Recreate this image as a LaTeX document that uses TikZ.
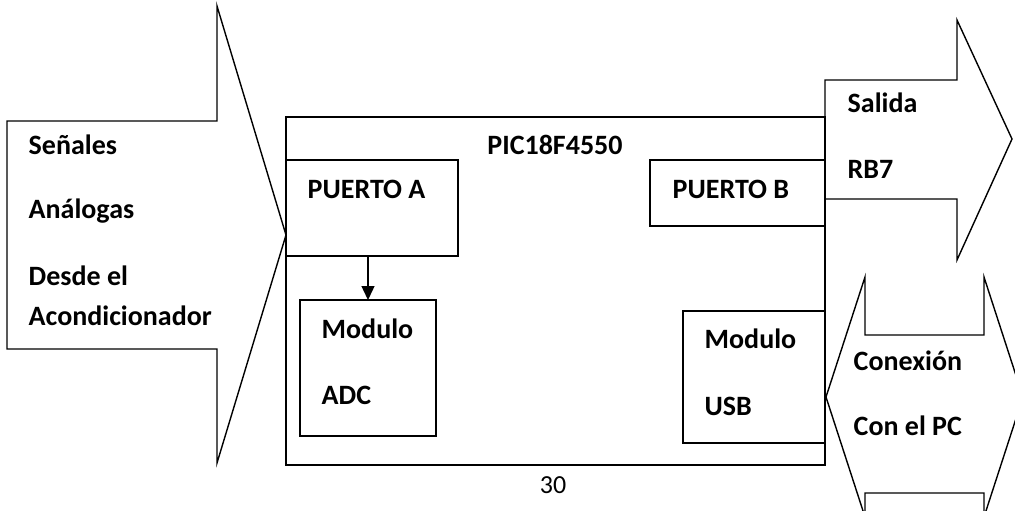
\documentclass[tikz,border=0pt]{standalone}
\usepackage{fontspec}
\setmainfont{Carlito}
\usepackage{tikz}
\usetikzlibrary{arrows.meta, positioning, calc}
\tikzset{>={Triangle[length=14pt, width=13pt]}}
\tikzset{
  blk/.style={draw, line width=1.4pt, inner sep=0pt, outer sep=0pt, anchor=north west},
  lbl/.style={anchor=base west, inner sep=0pt, font=\fontsize{28}{34}\selectfont\bfseries},
}

\begin{document}
\begin{tikzpicture}[x=1pt, y=-1pt, line width=1.4pt]
  \useasboundingbox (0,0) rectangle (1015,511);
  \clip (0,0) rectangle (1015,511);

  % input arrow
  \draw (7,121) to (217,121) to (217,6) to (286,235) to (217,463) to (217,349) to (7,349) -- cycle;
  \node[lbl] (senales) at (28,154) {Señales};
  \node[lbl] (analogas) at (28,218) {Análogas};
  \node[lbl] (desde) at (28,285) {Desde el};
  \node[lbl] (acond) at (28,325) {Acondicionador};

  % output arrow
  \draw (825,80) to (957,80) to (957,20) to (1012,139) to (957,260) to (957,199) to (825,199) -- cycle;
  \node[lbl] (salida) at (847,113) {Salida};
  \node[lbl] (rb) at (847,178) {RB7};

  % usb link
  \draw (826,397) to (865,277) to (865,335) to (984,335) to (984,277) to (1023,397)
        to (984,517) to (984,493) to (865,493) to (865,517) -- cycle;
  \node[lbl] (conexion) at (853,370) {Conexión};
  \node[lbl] (conpc) at (853,435) {Con el PC};

  % microcontroller
  \node[blk, minimum width=539pt, minimum height=348pt] (pic) at (286,117) {};
  \node[lbl, anchor=base] (picname) at (555,154) {PIC18F4550};
  \node[blk, minimum width=172pt, minimum height=96pt] (pa) at (286,160) {};
  \node[blk, minimum width=136pt, minimum height=136pt] (adc) at (300,300) {};
  \node[blk, minimum width=175pt, minimum height=66pt] (pb) at (650,160) {};
  \node[blk, minimum width=142pt, minimum height=132pt] (usb) at (683,311) {};
  \node[lbl] (patxt) at (307,198) {PUERTO A};
  \node[lbl] (pbtxt) at (672,198) {PUERTO B};
  \node[lbl] (adctxt1) at (321,338) {Modulo};
  \node[lbl] (adctxt2) at (321,404) {ADC};
  \node[lbl] (usbtxt1) at (704,348) {Modulo};
  \node[lbl] (usbtxt2) at (704,415) {USB};
  \draw[->] (adc.north |- pa.south) to (adc.north);

  \node[anchor=base, inner sep=0pt, font=\fontsize{26}{30}\selectfont] (pagenum) at (553,493) {30};
\end{tikzpicture}
\end{document}
